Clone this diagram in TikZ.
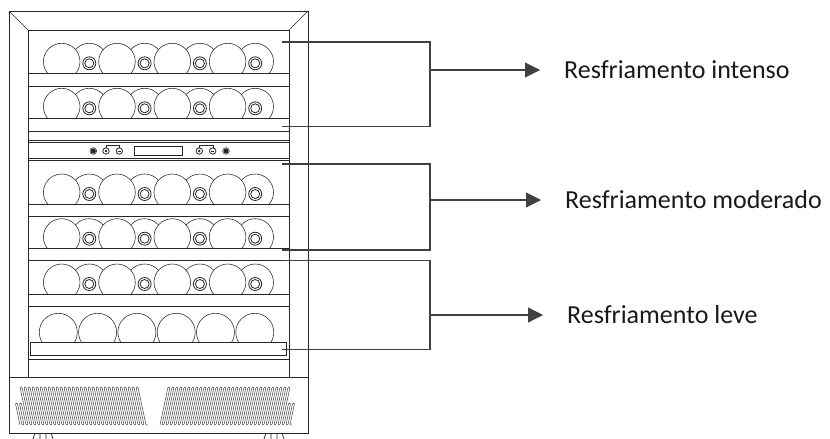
\documentclass[tikz,border=0pt]{standalone}
\usepackage{fontspec}
\setmainfont{Carlito}
\usepackage{tikz}
\usetikzlibrary{arrows.meta,calc}

\begin{document}
\begin{tikzpicture}[x=1pt,y=-1pt,
    fridge/.style={line width=0.7pt, draw=black!85},
    bottle/.style={line width=0.55pt, draw=black!85, fill=white},
    vent/.style={line width=0.45pt, draw=black!80, rounded corners=1pt},
    bracket/.style={line width=1.1pt, draw=black!75},
    pointer/.style={line width=1.1pt, draw=black!75, shorten >=24pt, -{Triangle[length=15pt,width=15pt]}},
    zonetext/.style={anchor=west, inner sep=0pt, text=black!90, font=\fontsize{26}{30}\selectfont}]
    \useasboundingbox (0,0) rectangle (830,439);

    % Bottle rows (row top / shelf)
    \foreach \rtop/\shelf in {30/73.3, 86/118.3, 160.7/204, 216/248.7, 260.7/294} {
        \begin{scope}
            \clip (28,\rtop) rectangle (289,\shelf);
            \foreach \k in {0,...,3} {
                \draw[bottle] (89.3+55.3*\k,\shelf-11.7) circle (18.3);
                \draw[bottle, line width=0.8pt] (89.3+55.3*\k,\shelf-10) circle (6.5);
                \draw[bottle, line width=0.8pt] (89.3+55.3*\k,\shelf-10) circle (4.5);
                \draw[bottle] (61.7+55.3*\k,\shelf-11.7) circle (18.3);
            }
        \end{scope}
    }
    % Bottom row
    \begin{scope}
        \clip (28,306) rectangle (289,342.7);
        \foreach \k in {0,...,5}
            \draw[bottle] (58.3+39.3*\k,332.3) circle (19);
    \end{scope}
    \draw[fridge] (30.7,342.7) rectangle (286.7,355.3);

    % Cabinet
    \draw[fridge] (9,11) rectangle (308,433);
    \draw[fridge] (28,377) -- (28,30) -- (289,30) -- (289,377);
    \draw[fridge] (9,11) -- (28,30) (308,11) -- (289,30);
    \draw[fridge] (9,377) -- (308,377);

    % Shelves
    \foreach \y in {73.3,86,118.3,131,140,142.7,158.3,160.7,204,216,248.7,260.7,294,306,359.3}
        \draw[fridge] (28,\y) -- (289,\y);

    % Control panel
    \draw[fridge] (134,146.7) rectangle (182.7,155.7);
    \foreach \x in {93.3,226} {
        \draw[fridge, line width=0.5pt] (\x,151) circle (3.4);
        \fill[black!85] (\x,151) circle (2.6);
    }
    \foreach \x in {106,199.3} {
        \draw[fridge, line width=0.8pt] (\x,151) circle (3.2);
        \fill[black!85] (\x,151) circle (1.4);
    }
    \foreach \x in {119.3,212.7} {
        \draw[fridge, line width=0.8pt] (\x,151) circle (3.2);
        \draw[fridge, line width=1pt] (\x-1.6,151) -- (\x+1.6,151);
    }
    \draw[fridge, line width=0.4pt] (106,147.7) -- (106,145.5) -- (119.3,145.5) -- (119.3,147.7);
    \draw[fridge, line width=0.4pt] (199.3,147.7) -- (199.3,145.5) -- (212.7,145.5) -- (212.7,147.7);

    % Vents
    \draw[vent] (20,425) foreach \j [evaluate=\j as \bx using 20+4*\j,
            evaluate=\j as \tp using 387+16*(\j<2)] in {0,...,31} {
        -- ({\bx-8*(425-\tp)/38},\tp) -- ({\bx-8*(425-\tp)/38+2},\tp) -- ({\bx+2},425) -- ({\bx+4},425)};
    \draw[vent] (160,425) foreach \j [evaluate=\j as \bx using 160+4*\j,
            evaluate=\j as \tp using 387+16*(\j>30)] in {0,...,32} {
        -- ({\bx+8*(425-\tp)/38},\tp) -- ({\bx+8*(425-\tp)/38+2},\tp) -- ({\bx+2},425) -- ({\bx+4},425)};

    % Feet
    \draw[fridge] (33,439) -- (35,433) (40,433) -- (40,439) (46,433) -- (46,439) (51,433) -- (53,439);
    \draw[fridge] (264,439) -- (266,433) (271,433) -- (271,439) (277,433) -- (277,439) (282,433) -- (284,439);

    % Zones
    \node[zonetext] (intenso) at (564,70) {Resfriamento intenso};
    \node[zonetext] (moderado) at (565,200) {Resfriamento moderado};
    \node[zonetext] (leve) at (567,315) {Resfriamento leve};

    \coordinate (b1) at (430,70);
    \coordinate (b2) at (430,200);
    \coordinate (b3) at (430,315);
    \draw[bracket] (281.7,42) -- (430,42) -- (430,126.7) -- (281.7,126.7);
    \draw[bracket] (281.7,164) -- (430,164) -- (430,250) -- (281.7,250);
    \draw[bracket] (281.7,260.7) -- (430,260.7) -- (430,349.3) -- (281.7,349.3);
    \draw[pointer] (b1) -- (intenso.west);
    \draw[pointer] (b2) -- (moderado.west);
    \draw[pointer] (b3) -- (leve.west);
\end{tikzpicture}
\end{document}
